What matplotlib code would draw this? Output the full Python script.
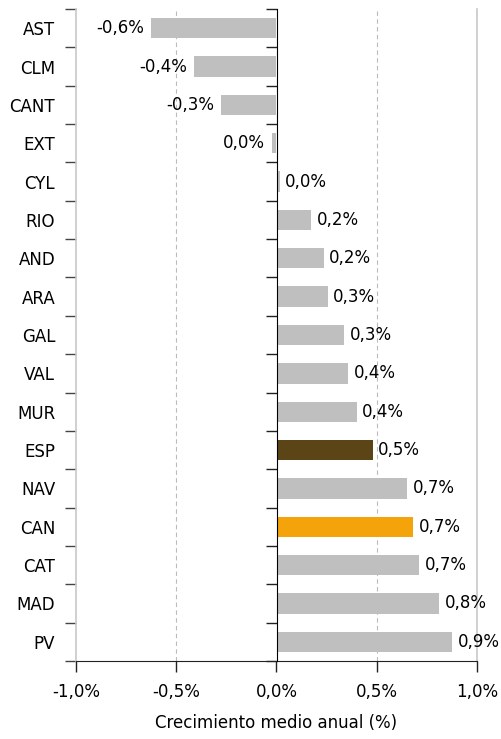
import matplotlib
matplotlib.use("Agg")
import matplotlib.pyplot as plt
import numpy as np

regions = ["AST", "CLM", "CANT", "EXT", "CYL", "RIO", "AND", "ARA", "GAL",
           "VAL", "MUR", "ESP", "NAV", "CAN", "CAT", "MAD", "PV"]
growth = [-0.627, -0.412, -0.278, -0.023, 0.015, 0.172, 0.236, 0.255, 0.336,
          0.356, 0.40, 0.48, 0.651, 0.681, 0.711, 0.81, 0.876]
xticks = [-1.0, -0.5, 0.0, 0.5, 1.0]

GREY = "#BFBFBF"
highlight = {"ESP": "#5B4517", "CAN": "#F5A30A"}

plt.rcParams["font.family"] = ["DejaVu Sans"]
plt.rcParams["font.size"] = 12


def pct(v):
    s = f"{v:.1f}".replace(".", ",")
    if s == "-0,0":
        s = "0,0"
    return s + "%"


fig = plt.figure(figsize=(5.02, 7.39), dpi=100)
ax = fig.add_axes([76 / 502, 1 - 661 / 739, 401 / 502, 652 / 739])

y = np.arange(len(regions))
colors = [highlight.get(r, GREY) for r in regions]
ax.barh(y, growth, height=0.53, color=colors, zorder=3)

for yi, v in zip(y, growth):
    if v < 0:
        ax.annotate(pct(v), (v, yi), xytext=(-5, 0), textcoords="offset points",
                    ha="right", va="center", fontsize=12, color="black")
    else:
        ax.annotate(pct(v), (v, yi), xytext=(4, 0), textcoords="offset points",
                    ha="left", va="center", fontsize=12, color="black")

ax.set_xlim(-1.0, 1.0)
ax.set_ylim(len(regions) - 0.5, -0.5)

# x axis
ax.set_xticks(xticks)
ax.set_xticklabels([pct(t) for t in xticks])
ax.tick_params(axis="x", direction="out", length=8, width=1, color="#222222", pad=8)
ax.set_xlabel("Crecimiento medio anual (%)", labelpad=9)
for t in [-0.5, 0.5]:
    ax.axvline(t, color="#BBBBBB", linestyle=(0, (4, 3)), linewidth=0.8, zorder=1)

# y axis: labels at left edge, boundary ticks
ax.set_yticks(y)
ax.set_yticklabels(regions)
ax.tick_params(axis="y", which="major", length=0, pad=15)
ax.set_yticks(np.arange(len(regions) + 1) - 0.5, minor=True)
ax.tick_params(axis="y", which="minor", direction="out", length=8, width=1,
               color="#444444")

ax.spines["top"].set_visible(False)
ax.spines["left"].set_color("#C8C8C8")
ax.spines["left"].set_linewidth(1.2)
ax.spines["right"].set_color("#C8C8C8")
ax.spines["right"].set_linewidth(1.2)
ax.spines["bottom"].set_color("#222222")

# vertical axis line at zero with boundary ticks pointing left
sec = ax.secondary_yaxis(0.5)
sec.set_yticks(np.arange(len(regions) + 1) - 0.5)
sec.set_yticklabels([])
sec.tick_params(direction="in", length=8, width=1, color="#222222")
sec.spines["left"].set_color("#222222")
sec.set_zorder(4)

fig.savefig("out.png", dpi=100)
